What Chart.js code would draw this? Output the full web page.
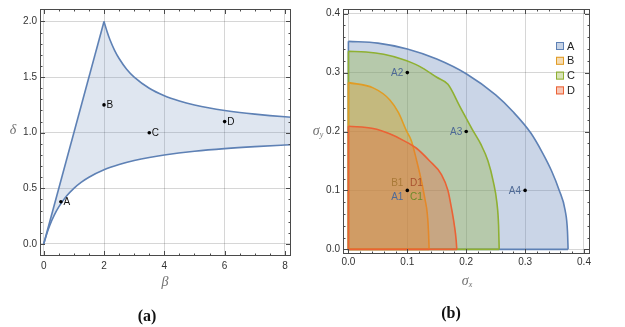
<!DOCTYPE html>
<html>
<head>
<meta charset="utf-8">
<script src="https://cdn.jsdelivr.net/npm/chart.js@4.4.1/dist/chart.umd.min.js"></script>
<style>
  html, body { margin: 0; padding: 0; background: #fff; }
  #page { position: relative; width: 625px; height: 327px; overflow: hidden; }
  canvas { position: absolute; top: 0; }
  #chartA { left: 0; }
  #chartB { left: 310px; }
  .axis-title { position: absolute; transform: translate(-50%, -50%); font-family: "Liberation Serif", "DejaVu Serif", serif; font-style: italic; font-size: 14px; line-height: 14px; color: #707070; white-space: nowrap; }
  .axis-title sub { font-size: 8px; line-height: 0; vertical-align: -2px; }
  .caption { position: absolute; transform: translate(-50%, -50%); font-family: "Liberation Serif", "DejaVu Serif", serif; font-weight: bold; font-size: 16px; color: #111; }
</style>
</head>
<body>
<div id="page">
  <canvas id="chartA" width="310" height="327"></canvas>
  <canvas id="chartB" width="315" height="327"></canvas>
  <div class="axis-title" style="left:165px;top:282px;">β</div>
  <div class="axis-title" style="left:13px;top:130px;">δ</div>
  <div class="axis-title" style="left:467px;top:281px;">σ<sub>x</sub></div>
  <div class="axis-title" style="left:318px;top:131px;">σ<sub>y</sub></div>
  <div class="caption" style="left:147px;top:316px;">(a)</div>
  <div class="caption" style="left:451px;top:313px;">(b)</div>
</div>
<script>
// ---- (a) admissible region in the beta / delta plane ----
const betaUpper  = [2, 2.1, 2.2, 2.35, 2.5, 2.75, 3, 3.5, 4, 4.5, 5, 5.5, 6, 6.5, 7, 7.5, 8, 8.4];
const deltaUpper = [2.0, 1.91, 1.833, 1.741, 1.667, 1.571, 1.5, 1.4, 1.333, 1.286, 1.25, 1.222, 1.2, 1.182, 1.167, 1.154, 1.143, 1.135];
const betaLower  = [0, 0.1, 0.2, 0.35, 0.5, 0.75, 1, 1.25, 1.5, 2, 2.5, 3, 3.5, 4, 5, 6, 7, 8, 8.4];
const deltaLower = [0, 0.09, 0.167, 0.259, 0.333, 0.429, 0.5, 0.556, 0.6, 0.667, 0.714, 0.75, 0.778, 0.8, 0.833, 0.857, 0.875, 0.889, 0.894];
const pointNamesA = ['A', 'B', 'C', 'D'];
const pointBeta   = [0.57, 2, 3.5, 6];
const pointDelta  = [0.38, 1.25, 1, 1.1];
const betaTicks  = [0, 2, 4, 6, 8];
const deltaTicks = [0, 0.5, 1, 1.5, 2];

// ---- (b) regions in the sigma_x / sigma_y plane ----
const regionNames = ['A', 'B', 'C', 'D'];
const sxA = [0, 0.05, 0.1, 0.15, 0.2, 0.25, 0.28, 0.31, 0.33, 0.345, 0.358, 0.368, 0.372, 0.373];
const syA = [0.353, 0.35, 0.34, 0.323, 0.298, 0.262, 0.233, 0.197, 0.163, 0.133, 0.1, 0.066, 0.03, 0];
const sxB = [0, 0.042, 0.07, 0.085, 0.0986, 0.107, 0.116, 0.124, 0.13, 0.134, 0.136, 0.137];
const syB = [0.283, 0.274, 0.254, 0.232, 0.201, 0.184, 0.15, 0.116, 0.085, 0.06, 0.03, 0];
const sxC = [0, 0.03, 0.06, 0.09, 0.12, 0.15, 0.169, 0.19, 0.21, 0.225, 0.237, 0.246, 0.252, 0.255, 0.256];
const syC = [0.336, 0.335, 0.331, 0.323, 0.311, 0.292, 0.28, 0.241, 0.204, 0.178, 0.15, 0.115, 0.08, 0.04, 0];
const sxD = [0, 0.042, 0.07, 0.093, 0.115, 0.138, 0.158, 0.169, 0.175, 0.18, 0.183, 0.184];
const syD = [0.209, 0.205, 0.196, 0.185, 0.172, 0.15, 0.127, 0.1, 0.07, 0.04, 0.015, 0];
const pointNamesB = ['B1', 'D1', 'A1', 'C1', 'A2', 'A3', 'A4'];
const pointSx     = [0.1, 0.1, 0.1, 0.1, 0.1, 0.2, 0.3];
const pointSy     = [0.1, 0.1, 0.1, 0.1, 0.3, 0.2, 0.1];
const sigmaTicks  = [0, 0.1, 0.2, 0.3, 0.4];

const blue = '#5e81b5', orange = '#e19c24', green = '#8fb032', red = '#eb6235';
const textColors = {A: '#4f6a96', B: '#a97a38', C: '#6c8c2a', D: '#a9502f'};
const fontFamily = '"Liberation Sans", Arial, sans-serif';

function toPoints(xs, ys) {
    return xs.map((x, i) => ({x: x, y: ys[i]}));
}

function rgba(hex, a) {
    const n = parseInt(hex.slice(1), 16);
    return `rgba(${(n >> 16) & 255}, ${(n >> 8) & 255}, ${n & 255}, ${a})`;
}

function minorTicks(from, to, step, majors) {
    const out = [];
    for (let v = from; v <= to + 1e-9; v += step) {
        const r = Math.round(v * 1000) / 1000;
        if (!majors.some(m => Math.abs(m - r) < 1e-9)) out.push(r);
    }
    return out;
}

function scaleConf(min, max, ticks, fmt, size, pad) {
    return {
        type: 'linear',
        min: min,
        max: max,
        afterBuildTicks: s => { s.ticks = ticks.map(v => ({value: v})); },
        afterFit: s => { if (s.isHorizontal()) s.height = size; else s.width = size; },
        grid: {color: 'rgba(0,0,0,0.16)', lineWidth: 1, drawTicks: false},
        border: {display: false},
        ticks: {padding: pad, color: '#333', font: {size: 10, family: fontFamily}, callback: fmt, maxRotation: 0, autoSkip: false}
    };
}

// frame with inward major / minor ticks on all four sides
const framePlugin = {
    id: 'frame',
    afterDatasetsDraw(chart, args, opts) {
        const {ctx, chartArea: a} = chart;
        const xs = chart.scales.x, ys = chart.scales.y;
        ctx.save();
        ctx.strokeStyle = '#4a4a4a';
        ctx.lineWidth = 1;
        ctx.beginPath();
        const vx = (list, len) => list.forEach(v => {
            const p = Math.round(xs.getPixelForValue(v)) + 0.5;
            ctx.moveTo(p, a.bottom); ctx.lineTo(p, a.bottom - len);
            ctx.moveTo(p, a.top); ctx.lineTo(p, a.top + len);
        });
        const vy = (list, len) => list.forEach(v => {
            const p = Math.round(ys.getPixelForValue(v)) + 0.5;
            ctx.moveTo(a.left, p); ctx.lineTo(a.left + len, p);
            ctx.moveTo(a.right, p); ctx.lineTo(a.right - len, p);
        });
        vx(opts.xMajor, 5); vx(opts.xMinor, 2.5);
        vy(opts.yMajor, 5); vy(opts.yMinor, 2.5);
        ctx.stroke();
        ctx.strokeRect(Math.round(a.left) + 0.5, Math.round(a.top) + 0.5,
            Math.round(a.right - a.left) - 1, Math.round(a.bottom - a.top) - 1);
        ctx.restore();
    }
};

// point names and the little legend of panel (b)
const textPlugin = {
    id: 'pointText',
    afterDatasetsDraw(chart, args, opts) {
        const {ctx} = chart;
        const xs = chart.scales.x, ys = chart.scales.y;
        ctx.save();
        ctx.font = '10px ' + fontFamily;
        ctx.textBaseline = 'middle';
        opts.items.forEach(it => {
            ctx.fillStyle = it.color;
            ctx.textAlign = it.align;
            ctx.fillText(it.text, xs.getPixelForValue(it.x) + it.dx, ys.getPixelForValue(it.y) + it.dy);
        });
        if (opts.legend) {
            const lg = opts.legend;
            ctx.font = '11px ' + fontFamily;
            ctx.textAlign = 'left';
            lg.names.forEach((name, i) => {
                const y = lg.y + i * lg.step;
                ctx.fillStyle = rgba(lg.colors[i], 0.35);
                ctx.fillRect(lg.x, y - 4, 8, 8);
                ctx.strokeStyle = lg.colors[i];
                ctx.lineWidth = 1;
                ctx.strokeRect(lg.x + 0.5, y - 3.5, 7, 7);
                ctx.fillStyle = '#222';
                ctx.fillText(name, lg.x + 11, y + 0.5);
            });
        }
        ctx.restore();
    }
};

// ---------- chart (a) ----------
const upperPts = toPoints(betaUpper, deltaUpper);
const lowerPts = toPoints(betaLower, deltaLower);
const lineStyle = {showLine: true, pointRadius: 0, borderColor: blue, borderWidth: 1.6, fill: false};

new Chart(document.getElementById('chartA'), {
    type: 'scatter',
    data: {
        datasets: [
            {
                data: toPoints(pointBeta, pointDelta),
                pointRadius: 1.8, pointBackgroundColor: '#000', pointBorderWidth: 0
            },
            // straight edge delta = beta up to the cusp
            Object.assign({data: [lowerPts[0], upperPts[0]]}, lineStyle),
            Object.assign({data: upperPts, cubicInterpolationMode: 'monotone'}, lineStyle),
            Object.assign({data: lowerPts, cubicInterpolationMode: 'monotone'}, lineStyle),
            {
                data: [lowerPts[0]].concat(upperPts, lowerPts.slice().reverse()),
                showLine: true, pointRadius: 0,
                borderWidth: 0, borderColor: 'rgba(0,0,0,0)',
                backgroundColor: rgba(blue, 0.2), fill: 'shape'
            }
        ]
    },
    options: {
        responsive: false,
        animation: false,
        devicePixelRatio: 1,
        events: [],
        layout: {padding: {left: 0, top: 4, right: 19, bottom: 0}},
        plugins: {
            legend: {display: false},
            tooltip: {enabled: false},
            frame: {
                xMajor: betaTicks, xMinor: minorTicks(0, 8, 0.5, betaTicks),
                yMajor: deltaTicks, yMinor: minorTicks(0, 2, 0.1, deltaTicks)
            },
            pointText: {
                items: pointNamesA.map((n, i) => ({
                    text: n, x: pointBeta[i], y: pointDelta[i], dx: 2.5, dy: 0.5, align: 'left', color: '#111'
                }))
            }
        },
        scales: {
            x: scaleConf(-0.123, 8.2, betaTicks, v => String(v), 71, 4),
            y: scaleConf(-0.108, 2.112, deltaTicks, v => v.toFixed(1), 40, 3)
        }
    },
    plugins: [framePlugin, textPlugin]
});

// ---------- chart (b) ----------
const regionX = [sxA, sxB, sxC, sxD];
const regionY = [syA, syB, syC, syD];
const regionColors = [blue, orange, green, red];

// outer curve, filled down to sigma_y = 0
function regionCurve(i) {
    return {
        data: toPoints(regionX[i], regionY[i]),
        showLine: true, pointRadius: 0, cubicInterpolationMode: 'monotone',
        borderColor: regionColors[i], borderWidth: 1.6,
        backgroundColor: rgba(regionColors[i], 0.33), fill: 'origin'
    };
}

// the two straight edges along the axes
function regionEdges(i) {
    const xs = regionX[i], ys = regionY[i];
    return {
        data: [{x: 0, y: ys[0]}, {x: 0, y: 0}, {x: xs[xs.length - 1], y: 0}],
        showLine: true, pointRadius: 0,
        borderColor: regionColors[i], borderWidth: 1.6, fill: false
    };
}

// label offsets around the dots
const labelOffsets = {
    B1: [-10, -7, 'center'], D1: [9, -7, 'center'], A1: [-10, 7, 'center'], C1: [9, 7, 'center'],
    A2: [-4, 0.5, 'right'], A3: [-4, 0.5, 'right'], A4: [-4, 0.5, 'right']
};

new Chart(document.getElementById('chartB'), {
    type: 'scatter',
    data: {
        datasets: [
            {
                data: toPoints([0.1, 0.1, 0.2, 0.3], [0.1, 0.3, 0.2, 0.1]),
                pointRadius: 1.8, pointBackgroundColor: '#000', pointBorderWidth: 0
            },
            regionEdges(3), regionCurve(3),
            regionEdges(1), regionCurve(1),
            regionEdges(2), regionCurve(2),
            regionEdges(0), regionCurve(0)
        ]
    },
    options: {
        responsive: false,
        animation: false,
        devicePixelRatio: 1,
        events: [],
        layout: {padding: {left: 0, top: 7, right: 35, bottom: 0}},
        plugins: {
            legend: {display: false},
            tooltip: {enabled: false},
            frame: {
                xMajor: sigmaTicks, xMinor: minorTicks(0, 0.4, 0.02, sigmaTicks),
                yMajor: sigmaTicks, yMinor: minorTicks(0, 0.4, 0.02, sigmaTicks)
            },
            pointText: {
                items: pointNamesB.map((n, i) => ({
                    text: n, x: pointSx[i], y: pointSy[i],
                    dx: labelOffsets[n][0], dy: labelOffsets[n][1], align: labelOffsets[n][2],
                    color: textColors[n[0]]
                })),
                legend: {x: 246, y: 46, step: 14.8, names: regionNames, colors: regionColors}
            }
        },
        scales: {
            x: scaleConf(-0.0092, 0.4102, sigmaTicks, v => v.toFixed(1), 73, 2),
            y: scaleConf(-0.0079, 0.4079, sigmaTicks, v => v.toFixed(1), 33, 3)
        }
    },
    plugins: [framePlugin, textPlugin]
});
</script>
</body>
</html>
